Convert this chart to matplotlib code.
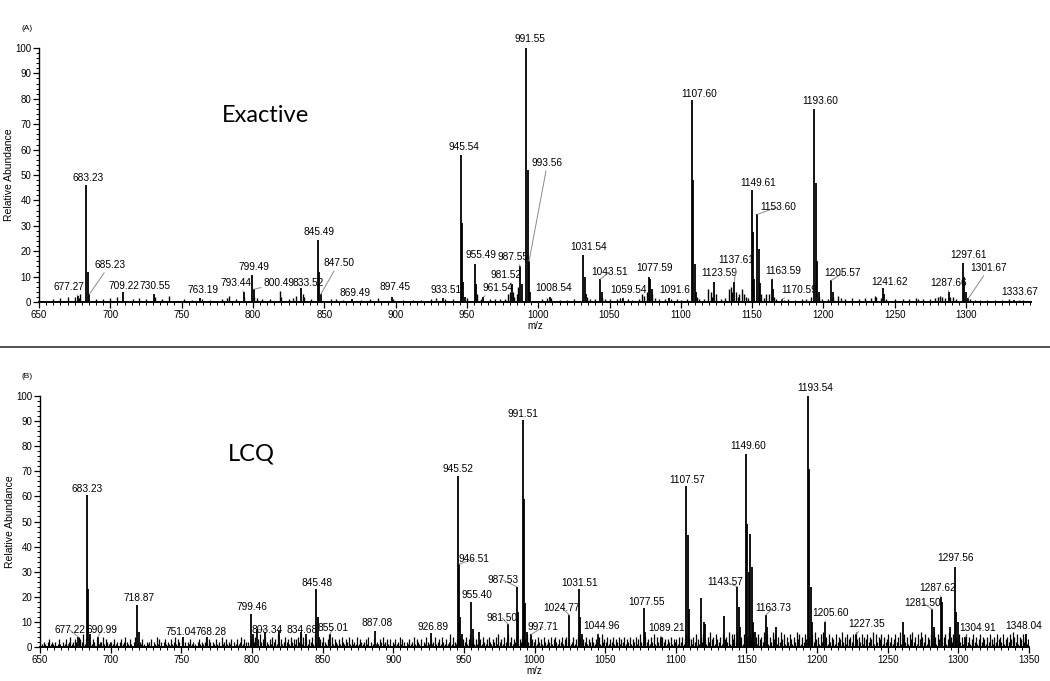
import matplotlib
matplotlib.use('Agg')
import matplotlib.pyplot as plt
from matplotlib.lines import Line2D
from matplotlib.ticker import MultipleLocator
import numpy as np

plt.rcParams['font.family'] = ['Liberation Sans', 'DejaVu Sans']

# ---- (A) Exactive: labelled / isotope peaks ----
exa_mz = [677.27, 683.23, 684.23, 685.23, 709.22, 730.55, 763.19, 793.44, 799.49, 800.49,
          833.52, 845.49, 846.49, 847.50, 869.49, 897.45, 933.51, 945.54, 946.54, 947.54,
          948.54, 955.49, 956.49, 961.54, 981.52, 987.55, 988.55, 991.55, 992.55, 993.56,
          994.56, 1008.54, 1031.54, 1032.54, 1033.54, 1043.51, 1044.51, 1059.54, 1077.59, 1078.59,
          1079.59, 1091.6, 1107.60, 1108.60, 1109.60, 1110.60, 1123.59, 1137.61, 1149.61, 1150.61,
          1151.61, 1153.60, 1154.60, 1155.60, 1163.59, 1164.59, 1170.59, 1193.60, 1194.60, 1195.60,
          1196.60, 1205.57, 1206.57, 1241.62, 1242.62, 1287.66, 1297.61, 1298.61, 1299.61, 1301.67,
          1333.67]
exa_int = [2.5, 46, 12, 3, 4, 3, 1.5, 4, 10.7, 5,
           5.5, 24.5, 12, 3, 1, 2, 1.5, 58, 31, 8,
           2, 15, 7, 2, 7, 14, 7, 100, 52, 16,
           4, 2, 18.5, 10, 3, 9, 4, 1.5, 10, 9,
           5, 1.5, 79.5, 48, 15, 4, 8, 8, 44, 27.5,
           9, 34.5, 21, 7.5, 9, 5, 1, 76, 47, 16,
           4, 8.5, 4, 5.5, 3, 4, 15.5, 10, 4, 1.5,
           0.6]

# ---- (A) Exactive: small baseline peaks ----
exa_small_mz = [660, 665, 670, 675, 678, 679, 690, 695, 700, 705, 716, 720, 725, 731, 736,
                741, 752, 757, 764, 770, 778, 782, 783, 788, 794, 801, 803, 806, 812, 819,
                820, 825, 828, 830, 835, 836, 841, 855, 858, 863, 876, 882, 888, 898, 905,
                912, 918, 925, 928, 935, 940, 950, 957, 960, 966, 970, 973, 977, 979, 980,
                982, 983, 985, 986, 1003, 1006, 1009, 1015, 1020, 1025, 1034, 1036, 1040, 1045,
                1047, 1050, 1055, 1057, 1063, 1066, 1071, 1073, 1074, 1076, 1080, 1082, 1085,
                1089, 1093, 1097, 1100, 1104, 1111, 1113, 1116, 1119, 1121, 1122, 1125, 1128,
                1131, 1134, 1135, 1136, 1139, 1140, 1141, 1143, 1144, 1146, 1147, 1156, 1158,
                1160, 1162, 1165, 1167, 1172, 1175, 1180, 1185, 1188, 1191, 1197, 1199, 1203,
                1207, 1210, 1212, 1215, 1220, 1225, 1229, 1233, 1236, 1237, 1240, 1244, 1250,
                1256, 1260, 1265, 1266, 1270, 1275, 1278, 1280, 1282, 1283, 1285, 1288.7, 1291,
                1293, 1303, 1306, 1310, 1315, 1320, 1325, 1330, 1337, 1340]
exa_small_int = [1, 1.5, 2, 2, 1.5, 3, 1, 1, 1.5, 2, 1, 1.5, 1, 2, 1,
                 2.5, 1, 0.8, 1, 0.8, 1, 1.5, 2.5, 1, 2, 2, 1.5, 1, 1, 4.5,
                 2, 1, 1.5, 2.5, 3, 2, 1, 1, 1, 0.8, 0.8, 1, 1.5, 1, 0.8,
                 0.8, 0.8, 1, 1.5, 1, 1, 1.5, 3, 1, 1, 1, 1, 1, 3, 4,
                 4, 2, 3, 6, 1, 1.5, 1.5, 0.8, 0.8, 1, 2, 1, 1, 2,
                 1, 1, 1, 1.5, 1, 0.8, 1, 3, 2.5, 4, 3, 1.5, 1,
                 1, 1, 1, 0.8, 1, 2, 1, 1, 5, 4, 2, 3, 1,
                 1.5, 5, 6, 4, 4, 2, 3, 5, 3, 2, 1.5, 3, 1.5,
                 3, 3, 2, 1, 0.8, 1, 0.8, 1, 1, 2, 2, 1, 1,
                 2, 2.5, 1.5, 1, 1.5, 1, 1.5, 1.5, 2.5, 2, 1.5, 1, 1,
                 1, 1, 1.5, 1, 1, 1, 1.5, 2, 2.5, 2, 1.5, 2, 2,
                 1, 1, 0.8, 0.8, 0.8, 0.8, 0.8, 1, 0.8, 0.8]

# ---- (B) LCQ: labelled / isotope peaks ----
lcq_mz = [677.22, 683.23, 684.23, 685.2, 690.99, 718.87, 719.87, 751.04, 768.28, 799.46,
          800.46, 803.34, 809.0, 819.0, 834.68, 838.0, 845.48, 846.48, 847.5, 855.01,
          887.08, 926.89, 945.52, 946.51, 947.51, 948.5, 955.40, 956.4, 961.0, 981.50,
          987.53, 988.53, 991.51, 992.51, 993.51, 994.5, 997.71, 1024.77, 1031.51, 1032.51,
          1033.5, 1044.96, 1077.55, 1078.55, 1089.21, 1107.57, 1108.57, 1109.57, 1117.5, 1120.0,
          1121.0, 1134.0, 1143.57, 1144.57, 1145.57, 1149.60, 1150.60, 1151.6, 1152.6, 1153.6,
          1154.6, 1156.0, 1163.73, 1164.7, 1171.0, 1193.54, 1194.54, 1195.54, 1196.5, 1205.60,
          1227.35, 1261.0, 1281.50, 1282.5, 1287.62, 1288.6, 1294.0, 1297.56, 1298.56, 1299.56,
          1304.91, 1348.04]
lcq_int = [4, 60.5, 23, 5, 4, 16.7, 6, 4, 4, 13,
           5, 7, 6, 6.5, 6, 5, 23, 12, 4, 5,
           6.5, 5.5, 68, 33, 12, 5, 18, 7, 6, 9,
           24, 14, 90.5, 59, 17.5, 6, 5, 12.7, 23, 12,
           5, 5, 15.5, 6, 4, 64, 44.6, 15, 19.5, 10,
           9, 12.5, 24, 16, 8, 77, 49, 30, 45, 32,
           10, 6, 12.7, 8, 8, 100, 71, 24, 10, 10,
           5, 10, 15, 8, 20, 18, 8, 32, 14, 10,
           4, 5]

# ---- (B) LCQ: baseline noise, one digit (%) per m/z unit, rows of 50 from 650 ----
lcq_noise_rows = [
    "01210231212013102131241232143251324213203122413212",
    "21312023124213102412213102123021413202312131241320",
    "31202131210231212413202131204123121302131241320213",
    "32413523142131423152312423142313425142313241524132",
    "42135241321314213241312141321231402131213241231302",
    "13124132021312413213021421312412314213125142132413",
    "24135241312314213421324152314235241324132413524132",
    "31423142132413421324134231241352413241324213241523",
    "24132413241324132413241352134231425142314231324132",
    "31424135243142531425314263415324153426153526424153",
    "42536241534263514263514263514253142635142536415263",
    "41526341524315243624153425163425143524361524351423",
    "52413524613524153624153642514352641536245136425143",
    "52413524135241352431425314253425134253642514352413",
]

# ---- peak labels: (text, label x, label y, leader line) ----
exa_labels = [
    ("677.27", 671, 5.9, True), ("683.23", 684.4, 49, False), ("685.23", 699.5, 14.6, True),
    ("709.22", 709.6, 6.3, False), ("730.55", 731.5, 6.3, False), ("763.19", 765, 4.7, False),
    ("793.44", 788, 7.4, True), ("799.49", 801, 13.8, False), ("800.49", 818.5, 7.4, True),
    ("833.52", 838.5, 7.4, False), ("845.49", 846.5, 27.6, False), ("847.50", 860, 15.3, True),
    ("869.49", 871.8, 3.6, False), ("897.45", 899.8, 5.9, False), ("933.51", 935.6, 4.7, False),
    ("945.54", 948, 61, False), ("955.49", 960, 18.5, False), ("961.54", 972, 5.5, True),
    ("981.52", 977.7, 10.6, True), ("987.55", 982.6, 17.7, True), ("991.55", 994, 103.5, False),
    ("993.56", 1006.5, 54.7, True), ("1008.54", 1011, 5.5, False), ("1031.54", 1035, 21.7, False),
    ("1043.51", 1050, 11.8, True), ("1059.54", 1063, 4.7, True), ("1077.59", 1081.6, 13.4, False),
    ("1091.6", 1095.6, 4.7, False), ("1107.60", 1112.5, 82, False), ("1123.59", 1127, 11.4, False),
    ("1137.61", 1139, 16.5, True), ("1149.61", 1154, 47, False), ("1153.60", 1168, 37.4, True),
    ("1163.59", 1172, 12.2, True), ("1170.59", 1183, 4.7, True), ("1193.60", 1198, 79, False),
    ("1205.57", 1213.5, 11.4, True), ("1241.62", 1246.5, 7.9, False), ("1287.66", 1288, 7.5, True),
    ("1297.61", 1302, 18.5, False), ("1301.67", 1316, 13.4, True), ("1333.67", 1337.7, 4, False),
]
lcq_labels = [
    ("677.22", 671, 6.8, True), ("683.23", 683.3, 63, False), ("690.99", 693.5, 6.8, True),
    ("718.87", 720, 19.5, False), ("751.04", 749.5, 6, False), ("768.28", 771, 6, False),
    ("799.46", 800, 16, False), ("803.34", 810.6, 6.8, True), ("834.68", 835.4, 6.8, False),
    ("845.48", 846, 25.5, False), ("855.01", 857.4, 7.5, True), ("887.08", 888.5, 9.6, False),
    ("926.89", 928, 8, False), ("945.52", 945.8, 71, False), ("946.51", 957, 35, True),
    ("955.40", 959, 20.7, False), ("981.50", 977, 11.6, True), ("987.53", 977.7, 26.7, True),
    ("991.51", 991.8, 93, False), ("997.71", 1006, 8, True), ("1024.77", 1019.4, 15.5, True),
    ("1031.51", 1032, 25.5, False), ("1044.96", 1047.7, 8.4, True), ("1077.55", 1079, 18, False),
    ("1089.21", 1093.7, 7.5, True), ("1107.57", 1108, 66.5, False), ("1143.57", 1134.8, 26, True),
    ("1149.60", 1151, 80, False), ("1163.73", 1168.7, 15.5, True), ("1193.54", 1198.5, 103, False),
    ("1205.60", 1209.8, 13.5, True), ("1227.35", 1235, 9.2, True), ("1281.50", 1275, 17.5, True),
    ("1287.62", 1285.5, 23.5, True), ("1297.56", 1298, 35.5, False), ("1304.91", 1313.8, 7.5, True),
    ("1348.04", 1346.4, 8.4, False),
]


def style_axes(ax, xmax):
    ax.set_xlim(650, xmax)
    ax.set_ylim(0, 100)
    for s in ['top', 'right']:
        ax.spines[s].set_visible(False)
    ax.spines['left'].set_linewidth(1.0)
    ax.spines['bottom'].set_linewidth(1.4)
    ax.xaxis.set_major_locator(MultipleLocator(50))
    ax.xaxis.set_minor_locator(MultipleLocator(5))
    ax.yaxis.set_major_locator(MultipleLocator(10))
    ax.yaxis.set_minor_locator(MultipleLocator(2))
    ax.tick_params(which='major', direction='out', length=4, width=0.9, labelsize=7, pad=1.5)
    ax.tick_params(which='minor', direction='out', length=2, width=0.7)
    ax.set_xlabel('m/z', fontsize=7, labelpad=1)
    ax.set_ylabel('Relative Abundance', fontsize=7.5, labelpad=1)


def add_labels(ax, labels, mz, inten):
    mz = np.asarray(mz)
    for text, tx, ty, lead in labels:
        i = int(np.argmin(np.abs(mz - float(text))))
        if lead:
            ax.annotate(text, xy=(mz[i], inten[i]), xytext=(tx, ty), ha='center', va='center',
                        fontsize=7.3, annotation_clip=False,
                        arrowprops=dict(arrowstyle='-', color='#8a8a8a', lw=0.7,
                                        shrinkA=0, shrinkB=0))
        else:
            ax.text(tx, ty, text, ha='center', va='center', fontsize=7.3)


fig = plt.figure(figsize=(10.5, 6.81), dpi=100)
W, H = 1050, 681
ax1 = fig.add_axes([39 / W, 1 - 302 / H, 992 / W, 254 / H])
ax2 = fig.add_axes([40 / W, 1 - 647 / H, 989 / W, 251 / H])

# panel A
ax1.vlines(exa_small_mz, 0, exa_small_int, color='black', lw=1.0)
ax1.vlines(exa_mz, 0, exa_int, color='black', lw=1.3)
style_axes(ax1, 1345.5)
add_labels(ax1, exa_labels, exa_mz, exa_int)

# panel B
noise_mz, noise_int = [], []
for r, row in enumerate(lcq_noise_rows):
    for k, ch in enumerate(row):
        if ch != '0':
            noise_mz.append(650 + 50 * r + k + 0.5)
            noise_int.append(int(ch))
ax2.vlines(noise_mz, 0, noise_int, color='black', lw=0.9)
ax2.vlines(lcq_mz, 0, lcq_int, color='black', lw=1.3)
style_axes(ax2, 1350)
add_labels(ax2, lcq_labels, lcq_mz, lcq_int)

# instrument names, panel tags, separator
fig.text(265 / W, 1 - 115 / H, 'Exactive', fontsize=17, family='Lato', ha='center', va='center')
fig.text(251 / W, 1 - 454 / H, 'LCQ', fontsize=17, family='Lato', ha='center', va='center')
fig.text(21 / W, 1 - 28 / H, '(A)', fontsize=6, ha='left', va='center')
fig.text(22 / W, 1 - 377 / H, '(B)', fontsize=6, ha='left', va='center')
fig.add_artist(Line2D([0, 1], [1 - 347 / H] * 2, transform=fig.transFigure, color='#444444', lw=1.3))

fig.savefig('out.png', dpi=100)
